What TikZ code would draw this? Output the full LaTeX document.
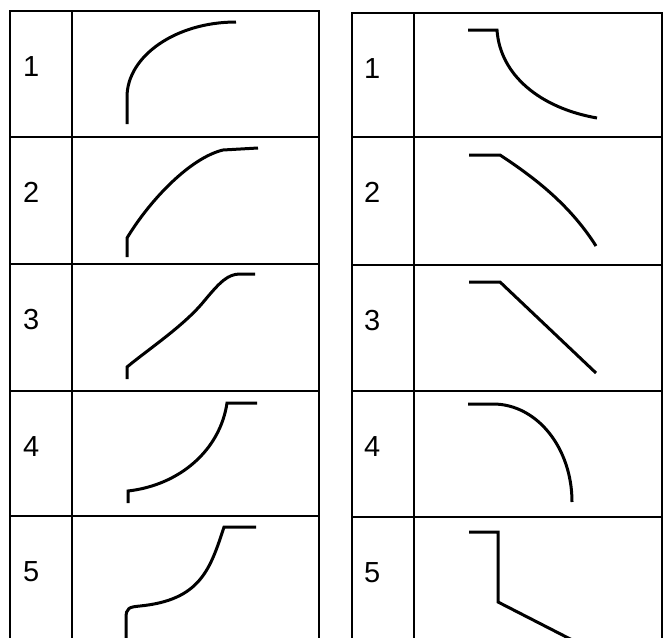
\documentclass[tikz,border=0pt]{standalone}
\usepackage{fontspec}
\setmainfont{Liberation Sans}

\begin{document}
\begin{tikzpicture}[x=1pt,y=-1pt,
    tabline/.style={line width=2pt},
    curve/.style={line width=3pt},
    num/.style={anchor=base west,inner sep=0pt,font=\fontsize{29}{29}\selectfont}]
    \useasboundingbox (0,0) rectangle (663,637);
    \begin{scope}
        \clip (0,0) rectangle (663,637);
        % left table
        \draw[tabline] (10,640) -- (10,11) -- (319,11) -- (319,640);
        \draw[tabline] (72,11) -- (72,640);
        \foreach \y in {137,264,391,516}
            \draw[tabline] (10,\y) -- (319,\y);
        \foreach \n/\y in {1/11,2/137,3/264,4/391,5/516}
            \node[num] (l\n) at (23,\y+65) {\n};
        % right table
        \draw[tabline] (352,640) -- (352,13) -- (662,13) -- (662,640);
        \draw[tabline] (414,13) -- (414,640);
        \foreach \y in {137,265,391,517}
            \draw[tabline] (352,\y) -- (662,\y);
        \foreach \n/\y in {1/13,2/137,3/265,4/391,5/517}
            \node[num] (r\n) at (364,\y+65) {\n};

        % left curves
        \draw[curve] (127,124) -- (127,97) .. controls (127,56) and (176,22) .. (236,22);
        \draw[curve] (127,257) -- (127,238) .. controls (150,200) and (190,158) .. (223,150) -- (258,148);
        \draw[curve] (127,379) -- (127,367) .. controls (150,348) and (185,325) .. (205,300)
            .. controls (220,282) and (228,274) .. (240,274) -- (255,274);
        \draw[curve] (128,503) -- (128,491) .. controls (180,485) and (220,450) .. (227,403) -- (257,403);
        \draw[curve] (126,640) -- (126,618) .. controls (126,608) and (129,607) .. (140,606)
            .. controls (200,600) and (210,570) .. (224,527) -- (256,527);

        % right curves
        \draw[curve] (468,30) -- (497,30) .. controls (500,75) and (540,108) .. (597,118);
        \draw[curve] (469,155) -- (500,155) .. controls (535,178) and (570,205) .. (596,246);
        \draw[curve] (469,282) -- (500,282) -- (596,373);
        \draw[curve] (468,404) -- (493,404) .. controls (537,404) and (572,448) .. (572,502);
        \draw[curve] (469,532) -- (498,532) -- (498,602) -- (580,644);
    \end{scope}
\end{tikzpicture}
\end{document}
